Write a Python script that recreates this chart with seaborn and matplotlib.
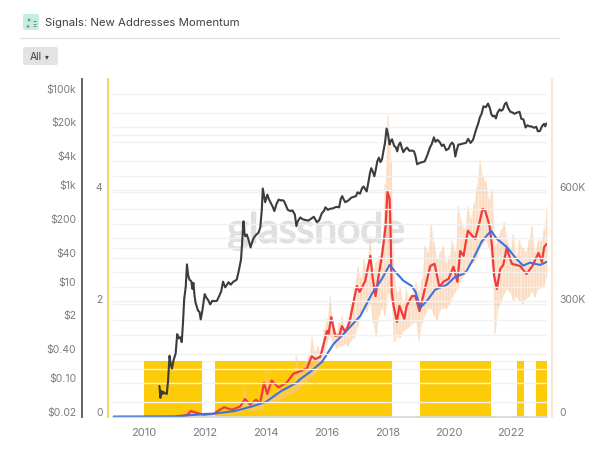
import numpy as np
import matplotlib
matplotlib.use("Agg")
import matplotlib.pyplot as plt
import matplotlib.patheffects as pe
from matplotlib.patches import FancyBboxPatch
import seaborn as sns

# signal periods (ratio axis, value 1 while on)
signal_start = [2010.0, 2012.34, 2017.61, 2019.05, 2020.04, 2022.22, 2022.84]
signal_end = [2011.92, 2017.59, 2018.12, 2020.02, 2021.36, 2022.44, 2023.2]
signal_level = 1

price_years = [2010.52, 2010.55, 2010.58, 2010.62, 2010.65, 2010.7, 2010.76, 2010.8, 2010.85, 2010.89,
               2010.93, 2010.98, 2011.05, 2011.1, 2011.15, 2011.2, 2011.25, 2011.29, 2011.33, 2011.38,
               2011.42, 2011.46, 2011.5, 2011.56, 2011.6, 2011.63, 2011.67, 2011.7, 2011.78, 2011.83,
               2011.87, 2011.92, 2012.0, 2012.05, 2012.12, 2012.18, 2012.25, 2012.33, 2012.4, 2012.48,
               2012.54, 2012.6, 2012.67, 2012.73, 2012.78, 2012.85, 2012.94, 2013.05, 2013.12, 2013.19,
               2013.23, 2013.27, 2013.3, 2013.33, 2013.38, 2013.43, 2013.5, 2013.58, 2013.64, 2013.7,
               2013.76, 2013.82, 2013.87, 2013.9, 2013.94, 2013.98, 2014.05, 2014.1, 2014.15, 2014.22,
               2014.28, 2014.35, 2014.42, 2014.5, 2014.55, 2014.6, 2014.66, 2014.72, 2014.8, 2014.87,
               2014.95, 2015.0, 2015.05, 2015.13, 2015.2, 2015.3, 2015.4, 2015.5, 2015.57, 2015.63,
               2015.67, 2015.75, 2015.83, 2015.9, 2015.95, 2016.03, 2016.1, 2016.2, 2016.3, 2016.4,
               2016.45, 2016.5, 2016.55, 2016.6, 2016.7, 2016.8, 2016.95, 2017.0, 2017.08, 2017.15,
               2017.2, 2017.25, 2017.3, 2017.36, 2017.41, 2017.45, 2017.5, 2017.55, 2017.6, 2017.65,
               2017.7, 2017.75, 2017.8, 2017.85, 2017.9, 2017.95, 2018.0, 2018.05, 2018.09, 2018.13,
               2018.2, 2018.25, 2018.3, 2018.35, 2018.4, 2018.45, 2018.5, 2018.56, 2018.62, 2018.7,
               2018.78, 2018.85, 2018.9, 2018.95, 2019.05, 2019.13, 2019.2, 2019.28, 2019.37, 2019.43,
               2019.5, 2019.55, 2019.62, 2019.7, 2019.76, 2019.82, 2019.9, 2019.98, 2020.05, 2020.1,
               2020.15, 2020.2, 2020.25, 2020.3, 2020.35, 2020.45, 2020.55, 2020.62, 2020.7, 2020.78,
               2020.88, 2020.95, 2021.0, 2021.06, 2021.12, 2021.2, 2021.27, 2021.33, 2021.38, 2021.43,
               2021.48, 2021.53, 2021.58, 2021.65, 2021.7, 2021.76, 2021.82, 2021.87, 2021.93, 2022.0,
               2022.07, 2022.13, 2022.2, 2022.3, 2022.36, 2022.43, 2022.5, 2022.56, 2022.62, 2022.7,
               2022.78, 2022.85, 2022.9, 2022.97, 2023.03, 2023.1, 2023.14, 2023.18]
price = [.088, .05, .07, .06, .066, .062, .06, .11, .37, .24,
         .2, .3, .41, 1.04, .85, .9, .71, 1.8, 5.6, 10,
         29, 17, 14, 13, 9, 12, 6.3, 4.7, 3.2, 3,
         2.1, 3.1, 7, 6, 5.2, 4.3, 5.1, 5, 5.1, 6.5,
         8, 12.7, 9.7, 11, 12.4, 11, 12.7, 14, 22, 37,
         90, 226, 130, 110, 120, 95, 65, 95, 110, 122,
         130, 170, 400, 1080, 780, 560, 806, 650, 560, 460,
         368, 520, 635, 610, 620, 584, 480, 390, 368, 380,
         310, 179, 230, 272, 250, 240, 235, 260, 280, 240,
         216, 240, 330, 370, 440, 390, 410, 420, 450, 440,
         650, 750, 640, 560, 610, 700, 750, 900, 840, 1100,
         1190, 1050, 940, 1500, 2300, 2850, 2400, 1930, 2700, 4000,
         4700, 3800, 4300, 6500, 9500, 18900, 14000, 8800, 10500, 11300,
         8200, 7800, 6350, 8700, 9650, 7500, 6100, 7000, 7600, 6500,
         6600, 6350, 5000, 3430, 3700, 3800, 3940, 5200, 7600, 9000,
         12400, 10000, 11000, 9650, 8200, 8800, 6700, 7200, 9000, 9650,
         8600, 4950, 6800, 8800, 8800, 9200, 9500, 11500, 9500, 11000,
         18000, 24000, 31800, 38000, 54400, 52000, 62000, 50000, 37000, 33500,
         35000, 30500, 40000, 47000, 44000, 47000, 61000, 64800, 50000, 42000,
         40600, 38000, 40000, 41900, 30000, 29000, 19800, 22000, 21000, 20700,
         19500, 20500, 16500, 16800, 20700, 23500, 21000, 24100]

red_years = [2009.0, 2011.0, 2011.42, 2011.55, 2011.74, 2011.96, 2012.29, 2012.45, 2012.64, 2012.89,
             2013.16, 2013.32, 2013.49, 2013.68, 2013.81, 2013.94, 2014.05, 2014.19, 2014.41, 2014.68,
             2014.9, 2015.13, 2015.35, 2015.5, 2015.62, 2015.78, 2015.91, 2016.0, 2016.05, 2016.14,
             2016.27, 2016.41, 2016.49, 2016.6, 2016.74, 2016.87, 2016.98, 2017.07, 2017.25, 2017.42,
             2017.5, 2017.59, 2017.69, 2017.8, 2017.92, 2017.98, 2018.05, 2018.08, 2018.12, 2018.18,
             2018.29, 2018.37, 2018.53, 2018.61, 2018.78, 2018.89, 2019.03, 2019.18, 2019.38, 2019.52,
             2019.68, 2019.81, 2019.98, 2020.14, 2020.27, 2020.36, 2020.47, 2020.61, 2020.85, 2020.98,
             2021.09, 2021.18, 2021.32, 2021.4, 2021.47, 2021.56, 2021.67, 2021.77, 2021.88, 2022.05,
             2022.32, 2022.53, 2022.72, 2022.92, 2023.03, 2023.11, 2023.19]
red_momentum = [1, 1, 5, 16, 11, 6, 8, 17, 26, 19,
                28, 48, 33, 46, 35, 91, 61, 97, 79, 91,
                115, 122, 130, 162, 154, 160, 200, 229, 221, 266,
                216, 218, 242, 226, 253, 306, 349, 333, 362, 429,
                368, 322, 376, 429, 509, 600, 581, 501, 333, 296,
                253, 296, 261, 296, 322, 322, 282, 333, 402, 408,
                346, 360, 368, 400, 360, 442, 429, 496, 474, 514,
                554, 549, 509, 456, 376, 341, 394, 405, 450, 408,
                402, 381, 402, 437, 413, 453, 461]

blue_years = [2009.0, 2011.0, 2011.96, 2012.3, 2013.0, 2013.5, 2014.0, 2014.5, 2015.0, 2015.13,
              2015.45, 2015.84, 2016.22, 2016.54, 2017.09, 2017.47, 2017.8, 2018.05, 2018.21, 2018.5,
              2018.77, 2018.9, 2019.05, 2019.27, 2019.54, 2019.92, 2020.19, 2020.46, 2020.57, 2020.79,
              2021.06, 2021.37, 2021.55, 2021.88, 2022.2, 2022.42, 2022.64, 2022.97, 2023.19]
blue_momentum = [0, 1, 8, 9, 16, 27, 40, 69, 91, 101,
                 120, 147, 195, 221, 269, 328, 368, 405, 389, 363,
                 349, 333, 291, 309, 339, 352, 373, 381, 389, 421,
                 467, 496, 475, 453, 421, 403, 411, 405, 413]

# daily new addresses range, one sample every 0.1 year from 2013
band_start = 2013.0
band_high = [22, 25, 28, 80, 45, 35, 30, 40, 38, 45,
             123, 75, 55, 60, 85, 65, 70, 72, 85, 88,
             168, 120, 130, 150, 165, 213, 175, 190, 160, 235,
             260, 323, 245, 225, 250, 270, 235, 265, 300, 345,
             403, 370, 421, 395, 483, 385, 413, 430, 456, 620,
             803, 680, 376, 333, 345, 300, 341, 310, 330, 360,
             333, 370, 456, 440, 515, 467, 420, 440, 456, 410,
             429, 470, 440, 563, 520, 500, 560, 530, 570, 616,
             683, 640, 627, 580, 608, 456, 483, 500, 520, 470,
             448, 488, 430, 470, 450, 440, 470, 509, 440, 470,
             470, 500, 563]
band_low = [10, 12, 14, 22, 20, 18, 17, 20, 22, 24,
            45, 42, 38, 40, 45, 48, 50, 55, 60, 65,
            70, 78, 85, 90, 100, 100, 115, 125, 140, 165,
            200, 215, 200, 181, 190, 189, 195, 190, 205, 210,
            240, 270, 290, 280, 300, 250, 213, 270, 290, 269,
            330, 307, 200, 215, 210, 229, 235, 240, 250, 253,
            203, 250, 270, 290, 288, 270, 256, 285, 290, 288,
            300, 320, 333, 345, 370, 376, 400, 410, 410, 421,
            450, 460, 470, 450, 400, 221, 290, 307, 330, 340,
            330, 310, 320, 309, 300, 315, 320, 333, 320, 340,
            345, 350, 376]

year_ticks = [2010, 2012, 2014, 2016, 2018, 2020, 2022]
price_ticks = [0.02, 0.1, 0.4, 2, 10, 40, 200, 1000, 4000, 20000, 100000]
price_labels = ["$0.02", "$0.10", "$0.40", "$2", "$10", "$40", "$200", "$1k", "$4k", "$20k", "$100k"]
price_minor = [0.04, 0.2, 1, 5, 20, 100, 400, 2000, 10000, 40000]
ratio_ticks = [0, 2, 4]
addr_ticks = [0, 300, 600]
addr_labels = ["0", "300K", "600K"]

W, H = 611, 452
GREY = "#7b7b7b"

sns.set_theme(style="white")
plt.rcParams["font.family"] = ["Inter", "DejaVu Sans"]

fig = plt.figure(figsize=(W / 100, H / 100), dpi=100)


def box(x0, y0, x1, y1):
    return [x0 / W, 1 - y1 / H, (x1 - x0) / W, (y1 - y0) / H]


ax = fig.add_axes(box(113, 80, 547, 418))
ax_addr = ax.twinx()
ax_price = ax.twinx()
for a in (ax_addr, ax_price):
    a.patch.set_visible(False)
    a.grid(False)

# base axis: ratio scale, grid, signal bars
ax.set_xlim(2009.0, 2023.2)
ax.set_ylim(0, 6)
ax.set_yticks(ratio_ticks)
ax.set_yticks([1, 3, 5], minor=True)
ax.set_xticks(year_ticks)
ax.set_xticklabels([str(y) for y in year_ticks])
ax.grid(True, axis="y", which="both", color="#f1f1f1", lw=1)
ax.grid(False, axis="x")
ax.set_axisbelow(True)
mark = ax.text(0.468, 0.55, "glassnode", transform=ax.transAxes, ha="center", va="center",
               fontsize=29.5, color="#e0e0e0", family="Lato", zorder=0.5)
mark.set_path_effects([pe.withStroke(linewidth=1.2, foreground="#e0e0e0")])
for s, e in zip(signal_start, signal_end):
    ax.fill_between([s, e], 0, signal_level, color="#fdcb08", lw=0, zorder=1)

# addresses
band_years = band_start + 0.1 * np.arange(len(band_high))
ax_addr.fill_between(band_years, band_low, band_high, color="#f9c69c", alpha=0.4, lw=0)
ax_addr.vlines(band_years, band_low, band_high, color="#f9c69c", alpha=0.35, lw=1.3)
sns.lineplot(x=red_years, y=red_momentum, ax=ax_addr, color="#f23a3c", lw=1.6, errorbar=None)
sns.lineplot(x=blue_years, y=blue_momentum, ax=ax_addr, color="#3d73de", lw=1.5, errorbar=None)
ax_addr.set_ylim(0, 900)
ax_addr.set_yticks(addr_ticks)
ax_addr.set_yticklabels(addr_labels)

# price
sns.lineplot(x=price_years, y=price, ax=ax_price, color="#3c3c3c", lw=1.5, errorbar=None)
ax_price.set_yscale("log")
ax_price.set_ylim(0.02, 200000)
ax_price.set_xlim(2009.0, 2023.2)
ax_price.yaxis.tick_left()
ax_price.set_yticks(price_ticks)
ax_price.set_yticklabels(price_labels)
ax_price.set_yticks(price_minor, minor=True)
ax_price.set_yticklabels([], minor=True)
ax_price.grid(True, axis="y", which="both", color="#f1f1f1", lw=1)
ax_price.set_axisbelow(True)
ax_price.tick_params(axis="y", which="minor", length=0)
ax.tick_params(axis="y", which="minor", length=0)

for a in (ax, ax_addr, ax_price):
    a.set_xlabel("")
    a.set_ylabel("")
    for sp in a.spines.values():
        sp.set_visible(False)

ax.spines["bottom"].set_visible(True)
ax.spines["bottom"].set_color("#d4d4d4")
ax.spines["left"].set_visible(True)
ax.spines["left"].set_position(("outward", 3.6))
ax.spines["left"].set_color("#f6d24e")
ax.spines["left"].set_linewidth(1.3)
ax_price.spines["left"].set_visible(True)
ax_price.spines["left"].set_position(("outward", 22))
ax_price.spines["left"].set_color("#555555")
ax_price.spines["left"].set_linewidth(1.3)
ax_addr.spines["right"].set_visible(True)
ax_addr.spines["right"].set_position(("outward", 3.6))
ax_addr.spines["right"].set_color("#fbdcc3")
ax_addr.spines["right"].set_linewidth(1.1)

ax.tick_params(axis="x", length=0, pad=7.5, labelsize=8, labelcolor=GREY)
ax.tick_params(axis="y", length=0, pad=4, labelsize=7.5, labelcolor=GREY)
ax_addr.tick_params(axis="y", length=0, pad=5, labelsize=7.5, labelcolor=GREY)
ax_price.tick_params(axis="y", which="major", length=0, pad=4.5, labelsize=7.5, labelcolor=GREY)
for a in (ax, ax_addr, ax_price):
    for lab in a.get_yticklabels():
        lab.set_va("bottom")

# header
fig.text(45 / W, 1 - 23 / H, "Signals: New Addresses Momentum", fontsize=8.2, color="#3f3f46", va="center")
fig.add_artist(plt.Line2D([20 / W, 559 / W], [1 - 39 / H, 1 - 39 / H], color="#e3e3e3", lw=1))
fig.add_artist(FancyBboxPatch((23 / W, 1 - 31 / H), 16 / W, 16 / H, boxstyle="round,pad=0,rounding_size=0.004",
                              transform=fig.transFigure, fc="#c5eedd", ec="none"))
fig.text(28 / W, 1 - 20 / H, "×", fontsize=4.5, color="#35544a", ha="center", va="center")
fig.text(34 / W, 1 - 20 / H, "−", fontsize=4.5, color="#35544a", ha="center", va="center")
fig.text(28 / W, 1 - 26 / H, "+", fontsize=4.5, color="#35544a", ha="center", va="center")
fig.text(34 / W, 1 - 26 / H, "=", fontsize=4.5, color="#35544a", ha="center", va="center")
fig.add_artist(FancyBboxPatch((23 / W, 1 - 66 / H), 35 / W, 18 / H, boxstyle="round,pad=0,rounding_size=0.004",
                              transform=fig.transFigure, fc="#e3e3e3", ec="none"))
fig.text(30 / W, 1 - 57 / H, "All", fontsize=7.5, color="#444444", va="center")
fig.text(47 / W, 1 - 57 / H, "▾", fontsize=5.5, color="#444444", va="center", ha="center")

fig.savefig("out.png", dpi=100)
